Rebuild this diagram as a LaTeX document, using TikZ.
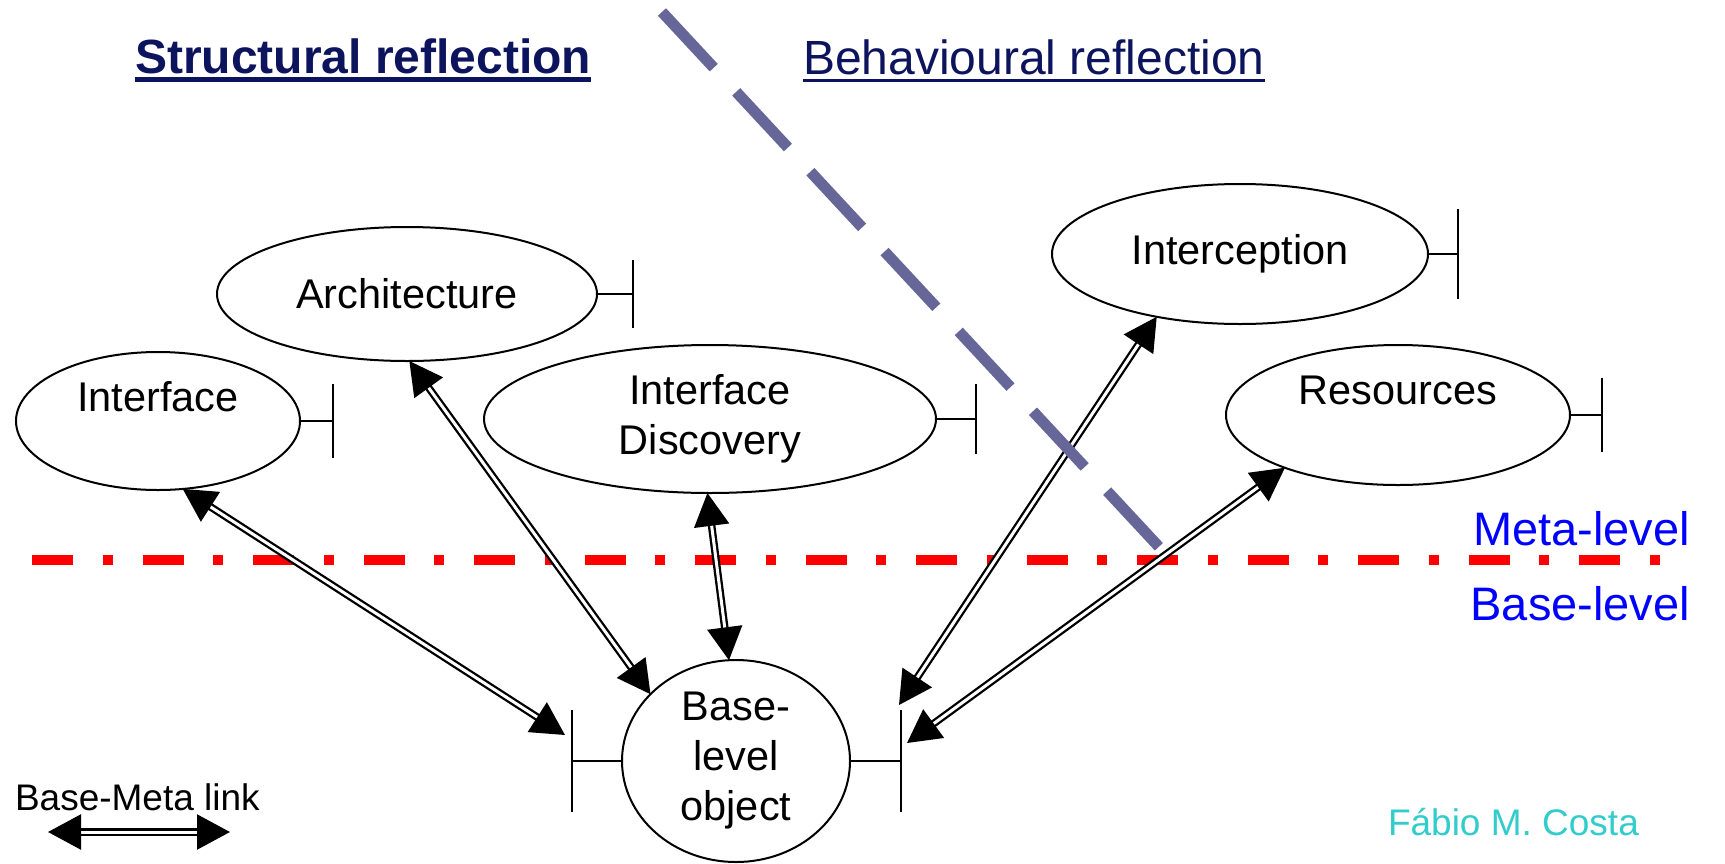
\documentclass[tikz,border=0pt]{standalone}
\usepackage{fontspec}
\setmainfont{Liberation Sans}
\usetikzlibrary{shapes.geometric,arrows.meta}
\definecolor{titleblue}{RGB}{13,20,94}
\definecolor{divider}{RGB}{102,102,153}
\definecolor{levelred}{RGB}{255,0,0}
\definecolor{levelblue}{RGB}{0,0,255}
\definecolor{authorteal}{RGB}{51,204,204}

\begin{document}
\begin{tikzpicture}[x=1pt,y=-1pt,
  every node/.style={inner sep=0pt, outer sep=0pt},
  unit/.style={ellipse, draw, line width=2pt, fill=white, align=center,
    font=\fontsize{41.5}{50}\selectfont},
  port/.style={line width=2pt},
  link/.style={double=white, double distance=3pt, line width=2.3pt,
    {Triangle[length=33pt,width=35pt]}-{Triangle[length=33pt,width=35pt]}},
  heading/.style={text=titleblue, anchor=base west},
  levelname/.style={font=\fontsize{47}{56}\selectfont, text=levelblue, anchor=base east},
]
% canvas
\fill[white] (0,0) rectangle (1725,863);
\useasboundingbox (0,0) rectangle (1725,863);

% headings
\node[heading, font=\bfseries\fontsize{48}{56}\selectfont] (structural) at (135,73) {Structural reflection};
\draw[titleblue, line width=5pt] ([yshift=-6.5pt]structural.base west) -- ([yshift=-6.5pt]structural.base east);
\node[heading, font=\fontsize{48}{56}\selectfont] (behavioural) at (803,74) {Behavioural reflection};
\draw[titleblue, line width=3pt] ([yshift=-6.5pt]behavioural.base west) -- ([yshift=-6.5pt]behavioural.base east);

% meta / base boundary
\coordinate (boundL) at (32,560);
\coordinate (boundR) at (1660,560);
\draw[levelred, line width=10pt, dash pattern=on 41pt off 29.75pt on 10pt off 29.75pt] (boundL) -- (boundR);
\node[levelname] (metalevel) at (1690,545) {Meta-level};
\node[levelname] (baselevel) at (1690,620) {Base-level};

% meta-level units
\node[unit, minimum width=284pt, minimum height=138pt] (iface) at (158,421) {Interface\\\mbox{}};
\node[unit, minimum width=380pt, minimum height=134pt] (arch) at (407,294) {Architecture};
\node[unit, minimum width=452pt, minimum height=148pt] (disc) at (710,419) {Interface\\Discovery};
\node[unit, minimum width=376pt, minimum height=140pt] (intc) at (1240,254) {Interception};
\node[unit, minimum width=344pt, minimum height=140pt] (res) at (1398,415) {Resources\\\mbox{}};

% base-level object
\node[unit, minimum width=228pt, minimum height=202pt] (base) at (736,761) {Base-\\level\\object};

% interface stubs
\draw[port] (iface.east) -- ++(33,0) coordinate (iface-bar);
\draw[port] ([yshift=37pt]iface-bar) -- ([yshift=-37pt]iface-bar);
\draw[port] (arch.east) -- ++(36,0) coordinate (arch-bar);
\draw[port] ([yshift=34pt]arch-bar) -- ([yshift=-34pt]arch-bar);
\draw[port] (disc.east) -- ++(40,0) coordinate (disc-bar);
\draw[port] ([yshift=35pt]disc-bar) -- ([yshift=-35pt]disc-bar);
\draw[port] (intc.east) -- ++(30,0) coordinate (intc-bar);
\draw[port] ([yshift=45pt]intc-bar) -- ([yshift=-45pt]intc-bar);
\draw[port] (res.east) -- ++(32,0) coordinate (res-bar);
\draw[port] ([yshift=37pt]res-bar) -- ([yshift=-37pt]res-bar);
\draw[port] (base.west) -- ++(-50,0) coordinate (base-lbar);
\draw[port] ([yshift=51pt]base-lbar) -- ([yshift=-51pt]base-lbar);
\draw[port] (base.east) -- ++(51,0) coordinate (base-rbar);
\draw[port] ([yshift=51pt]base-rbar) -- ([yshift=-51pt]base-rbar);

% base-meta links
\coordinate (base-in-left) at (565,735);
\coordinate (base-in-intc) at (899,705);
\coordinate (base-in-res) at (907,743);
\draw[link] (iface.290.5) -- (base-in-left);
\draw[link] (arch.272.4) -- (base.142.2);
\draw[link] (disc.268.4) -- (base.94.9);
\draw[link] (intc.217) -- (base-in-intc);
\draw[link] (res.205.2) -- (base-in-res);

% structural / behavioural divider
\coordinate (divA) at (662,12);
\coordinate (divB) at (1160,548);
\draw[divider, line width=11pt, dash pattern=on 76pt off 33pt] (divA) -- (divB);

% legend
\node[font=\fontsize{37}{44}\selectfont, anchor=base west] (legend) at (15,810) {Base-Meta link};
\coordinate (legL) at (48,832);
\coordinate (legR) at (230,832);
\draw[link] (legL) -- (legR);

% credit
\node[font=\fontsize{37}{44}\selectfont, text=authorteal, anchor=base west] (author) at (1388,835) {Fábio M. Costa};
\end{tikzpicture}
\end{document}
